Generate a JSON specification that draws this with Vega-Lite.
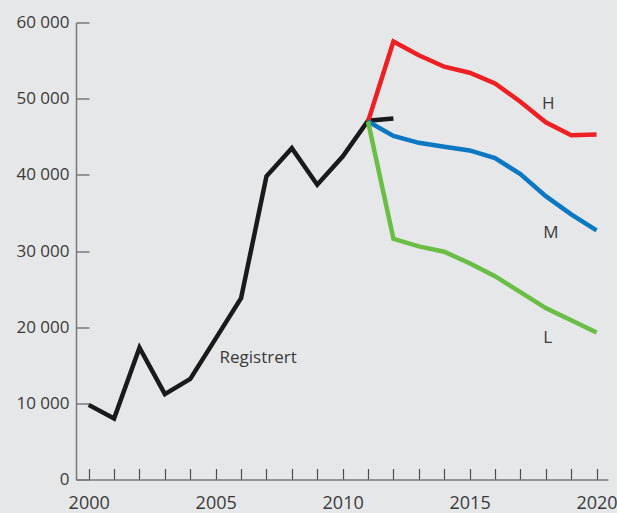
{
  "$schema": "https://vega.github.io/schema/vega-lite/v6.json",
  "width": 532,
  "height": 457,
  "autosize": "none",
  "padding": {"left": 76, "top": 22.5, "right": 9, "bottom": 33.5},
  "background": "#e6e7e9",
  "config": {
    "view": {"stroke": null},
    "locale": {"number": {"decimal": ",", "thousands": " ", "grouping": [3], "currency": ["", ""]}},
    "font": "Open Sans"
  },
  "datasets": {
    "series": [
      {"year": 2000, "value": 9800, "series": "Registrert"},
      {"year": 2001, "value": 8000, "series": "Registrert"},
      {"year": 2002, "value": 17300, "series": "Registrert"},
      {"year": 2003, "value": 11200, "series": "Registrert"},
      {"year": 2004, "value": 13200, "series": "Registrert"},
      {"year": 2005, "value": 18500, "series": "Registrert"},
      {"year": 2006, "value": 23800, "series": "Registrert"},
      {"year": 2007, "value": 39800, "series": "Registrert"},
      {"year": 2008, "value": 43500, "series": "Registrert"},
      {"year": 2009, "value": 38700, "series": "Registrert"},
      {"year": 2010, "value": 42400, "series": "Registrert"},
      {"year": 2011, "value": 47100, "series": "Registrert"},
      {"year": 2012, "value": 47400, "series": "Registrert"},
      {"year": 2011, "value": 47000, "series": "H"},
      {"year": 2012, "value": 57500, "series": "H"},
      {"year": 2013, "value": 55700, "series": "H"},
      {"year": 2014, "value": 54200, "series": "H"},
      {"year": 2015, "value": 53400, "series": "H"},
      {"year": 2016, "value": 52000, "series": "H"},
      {"year": 2017, "value": 49600, "series": "H"},
      {"year": 2018, "value": 46900, "series": "H"},
      {"year": 2019, "value": 45200, "series": "H"},
      {"year": 2020, "value": 45300, "series": "H"},
      {"year": 2011, "value": 47000, "series": "M"},
      {"year": 2012, "value": 45100, "series": "M"},
      {"year": 2013, "value": 44200, "series": "M"},
      {"year": 2014, "value": 43700, "series": "M"},
      {"year": 2015, "value": 43200, "series": "M"},
      {"year": 2016, "value": 42200, "series": "M"},
      {"year": 2017, "value": 40100, "series": "M"},
      {"year": 2018, "value": 37200, "series": "M"},
      {"year": 2019, "value": 34800, "series": "M"},
      {"year": 2020, "value": 32700, "series": "M"},
      {"year": 2011, "value": 47000, "series": "L"},
      {"year": 2012, "value": 31600, "series": "L"},
      {"year": 2013, "value": 30600, "series": "L"},
      {"year": 2014, "value": 29900, "series": "L"},
      {"year": 2015, "value": 28400, "series": "L"},
      {"year": 2016, "value": 26700, "series": "L"},
      {"year": 2017, "value": 24600, "series": "L"},
      {"year": 2018, "value": 22500, "series": "L"},
      {"year": 2019, "value": 20900, "series": "L"},
      {"year": 2020, "value": 19300, "series": "L"}
    ],
    "labels": [
      {"label": "H", "year": 2018.1, "value": 49300},
      {"label": "M", "year": 2018.2, "value": 32400},
      {"label": "L", "year": 2018.07, "value": 18600},
      {"label": "Registrert", "year": 2006.67, "value": 16000}
    ],
    "frame": [
      {"edge": "top"}
    ]
  },
  "encoding": {
    "x": {
      "field": "year",
      "type": "quantitative",
      "scale": {"domain": [1999.5, 2020.45], "nice": false, "zero": false},
      "axis": {
        "title": null,
        "values": [2000,2001,2002,2003,2004,2005,2006,2007,2008,2009,2010,2011,2012,2013,2014,2015,2016,2017,2018,2019,2020],
        "labelExpr": "datum.value % 5 === 0 ? format(datum.value, 'd') : ''",
        "grid": false,
        "domainColor": "#77787b",
        "domainWidth": 1.5,
        "tickColor": "#4d4d4f",
        "tickWidth": 1.2,
        "tickSize": -11,
        "labelPadding": 26,
        "labelFontSize": 18,
        "labelColor": "#3a3a3a",
        "labelOverlap": false,
        "labelBound": false,
        "labelFlush": false
      }
    },
    "y": {
      "field": "value",
      "type": "quantitative",
      "scale": {"domain": [0, 60000], "nice": false},
      "axis": {
        "title": null,
        "values": [0, 10000, 20000, 30000, 40000, 50000, 60000],
        "format": ",d",
        "grid": false,
        "domainColor": "#77787b",
        "domainWidth": 1.5,
        "tickColor": "#77787b",
        "tickWidth": 1.5,
        "tickSize": -13,
        "labelPadding": 20,
        "labelFontSize": 17,
        "labelColor": "#3a3a3a"
      }
    }
  },
  "layer": [
    {
      "data": {"name": "series"},
      "mark": {"type": "line", "strokeWidth": 4.5, "strokeJoin": "miter", "strokeCap": "butt"},
      "encoding": {
        "color": {
          "field": "series",
          "type": "nominal",
          "scale": {"domain": ["Registrert", "H", "M", "L"], "range": ["#1b1a1a", "#ed2024", "#0c78c2", "#6abd45"]},
          "legend": null
        }
      }
    },
    {
      "data": {"name": "labels"},
      "mark": {"type": "text", "fontSize": 17, "color": "#3a3a3a", "align": "center", "baseline": "middle"},
      "encoding": {
        "text": {"field": "label"}
      }
    },
    {
      "data": {"name": "frame"},
      "mark": {"type": "rule", "color": "#6d6e70", "strokeWidth": 1.5, "clip": false},
      "encoding": {
        "y": {"datum": 62450, "type": "quantitative"}
      }
    }
  ]
}
